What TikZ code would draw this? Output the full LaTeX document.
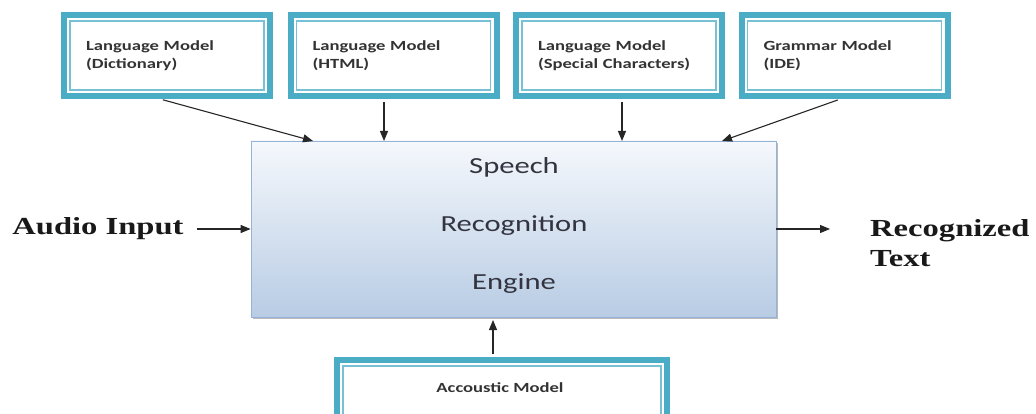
\documentclass[tikz,border=0pt]{standalone}
\usepackage{fontspec}
\setmainfont{Carlito}
\newfontfamily\boxfont[FakeStretch=1.33]{Carlito}
\newfontfamily\iofont[FakeStretch=1.33]{Liberation Serif}
\usetikzlibrary{arrows.meta,shadows}
\definecolor{modelteal}{HTML}{4BACC6}
\definecolor{engedge}{HTML}{95B3D7}
\definecolor{engtop}{HTML}{F5F8FC}
\definecolor{engbot}{HTML}{B8CCE4}
\definecolor{engink}{HTML}{33343F}

\begin{document}
\begin{tikzpicture}[x=1pt, y=-1pt,
  model/.style={draw=modelteal, line width=6pt, fill=white, minimum width=206pt, minimum height=81pt,
    text width=162pt, inner xsep=22pt, inner ysep=0pt, align=left, text=black!80,
    font=\boxfont\bfseries\fontsize{14}{18}\selectfont,
    path picture={\draw[modelteal!75, line width=1.3pt]
      ([shift={(6pt,-6pt)}]path picture bounding box.north west) rectangle
      ([shift={(-6pt,6pt)}]path picture bounding box.south east);}},
  engine/.style={draw=engedge, line width=0.8pt, top color=engtop, bottom color=engbot,
    minimum width=525pt, minimum height=176pt,
    drop shadow={shadow xshift=2pt, shadow yshift=-2pt, opacity=0.45, fill=black!60}},
  io/.style={font=\iofont\bfseries\fontsize{24.5}{30}\selectfont, text=black!90, inner sep=0pt},
  arr/.style={-{Triangle[length=10pt,width=8pt]}, line width=1.1pt, black!85}]
  \useasboundingbox (0,0) rectangle (1036,414);

  \node[model] (m1) at (167,55.5)   {Language Model\\(Dictionary)};
  \node[model] (m2) at (393.5,55.5) {Language Model\\(HTML)};
  \node[model] (m3) at (619,55.5)   {Language Model\\(Special Characters)};
  \node[model] (m4) at (844.5,55.5) {Grammar Model\\(IDE)};
  \node[model, text width=286pt] (ac) at (502,400.5) {};
  \node[font=\boxfont\bfseries\fontsize{14}{18}\selectfont, text=black!80, inner sep=0pt] (aclabel) at (500,388) {Accoustic Model};

  \node[engine] (eng) at (513.5,229) {};
  \node[align=center, text=engink, font=\boxfont\fontsize{23}{58}\selectfont] (engname) at (514,225) {Speech\\Recognition\\Engine};

  \node[io] (in) at (98,229) {Audio Input};
  \node[io, align=left, anchor=west] (out) at (870,243) {Recognized\\Text};

  \coordinate (t1) at (313,141);
  \coordinate (t2) at (384,141);
  \coordinate (t3) at (622,141);
  \coordinate (t4) at (722,141);
  \coordinate (t5) at (493,320);

  \draw[arr, shorten <=3pt] ([xshift=-7pt]m1.south) -- (t1);
  \draw[arr, shorten <=3pt] (m2.south -| t2) -- (t2);
  \draw[arr, shorten <=3pt] (m3.south -| t3) -- (t3);
  \draw[arr, shorten <=3pt] ([xshift=-4pt]m4.south) -- (t4);
  \draw[arr, shorten <=3pt] (ac.north -| t5) -- (t5);
  \draw[arr] ([xshift=13pt]in.east) -- (in.east -| eng.west);
  \draw[arr, shorten >=40pt] (eng.east) -- (eng.east -| out.west);
\end{tikzpicture}
\end{document}
